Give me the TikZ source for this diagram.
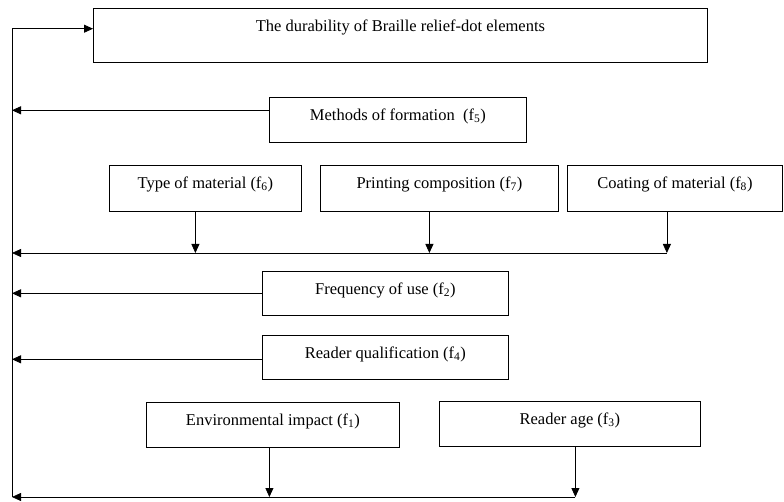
\documentclass[tikz,border=0pt]{standalone}
\usepackage{fontspec}
\setmainfont{Liberation Serif}
\usetikzlibrary{arrows.meta}
\begin{document}
\begin{tikzpicture}[x=1pt,y=-1pt,
  box/.style={draw,line width=0.8pt,inner sep=0pt,text height=22.8pt,text depth=#1,anchor=north west,font=\fontsize{16.5}{20}\selectfont},
  box/.default=22pt,
  arr/.style={line width=0.8pt,-{Triangle[length=9pt,width=8pt]}}]
\useasboundingbox (0,0) rectangle (784,502);
\node[box=31pt,minimum width=614pt] (top) at (93,8) {The durability of Braille relief-dot elements};
\node[box,minimum width=257pt] (meth) at (269,97) {Methods of formation\ \ (f\textsubscript{5})};
\node[box=23pt,minimum width=192pt] (type) at (109,165) {Type of material (f\textsubscript{6})};
\node[box=23pt,minimum width=238pt] (print) at (320,165) {Printing composition (f\textsubscript{7})};
\node[box=23pt,minimum width=215pt] (coat) at (567,165) {Coating of material (f\textsubscript{8})};
\node[box=21pt,minimum width=246pt] (freq) at (262,271) {Frequency of use (f\textsubscript{2})};
\node[box=21pt,minimum width=246pt] (qual) at (262,335) {Reader qualification (f\textsubscript{4})};
\node[box,minimum width=253pt] (env) at (146,402) {Environmental impact (f\textsubscript{1})};
\node[box,minimum width=261pt] (age) at (439,401) {Reader age (f\textsubscript{3})};
\coordinate (Ltop) at (12,28.7);
\coordinate (Lmid) at (12,253);
\coordinate (Lbot) at (12,497);
\draw[arr] (Lbot) -- (Ltop) -- (top.west |- Ltop);
\draw[arr] ([yshift=9.5pt]meth.west) coordinate (m5) -- (m5 -| Ltop);
\draw[arr] ([xshift=-10pt]type.south) -- ([xshift=-10pt]type.south |- Lmid);
\draw[arr] ([xshift=-10pt]print.south) -- ([xshift=-10pt]print.south |- Lmid);
\draw[arr] ([xshift=-8pt]coat.south) -- ([xshift=-8pt]coat.south |- Lmid);
\draw[arr] ([xshift=-8pt]coat.south |- Lmid) -- (Lmid);
\draw[arr] (freq.west) -- (freq.west -| Lmid);
\draw[arr] ([yshift=-2pt]qual.west) coordinate (q4) -- (q4 -| Lmid);
\draw[arr] ([xshift=-3.5pt]env.south) -- ([xshift=-3.5pt]env.south |- Lbot);
\draw[arr] ([xshift=5.5pt]age.south) -- ([xshift=5.5pt]age.south |- Lbot);
\draw[arr] ([xshift=5.5pt]age.south |- Lbot) -- (Lbot);
\end{tikzpicture}
\end{document}
